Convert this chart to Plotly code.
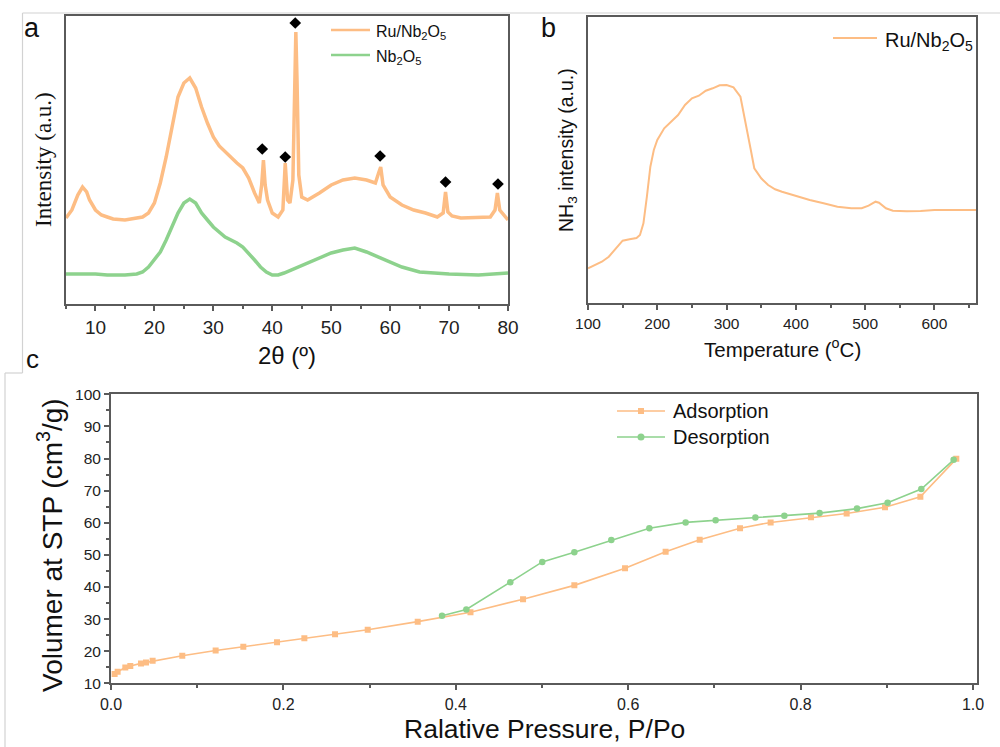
import plotly.graph_objects as go

W, H = 1000, 747
ORANGE = "#FDBD84"
GREEN = "#8DD28D"
AXC = "#5a5a5a"
SANS = "Liberation Sans, Arial, sans-serif"
SERIF = "Liberation Serif, Times New Roman, serif"

# ---------------- panel a : XRD ----------------
xrd_ru_x = [5, 6, 7, 7.8, 8.5, 9, 10, 11, 12, 13, 15, 17, 18, 19, 20, 21, 22, 23, 24, 25, 26, 27,
            28, 29, 30, 31, 32, 33, 34, 35, 36, 37, 37.8, 38.2, 38.5, 38.8, 39.2, 40, 41, 41.8,
            42.2, 42.6, 43, 43.5, 43.8, 44, 44.2, 44.5, 45, 46, 48, 50, 52, 54, 56, 57.5, 58.1,
            58.4, 58.8, 59.5, 60, 62, 64, 66, 68, 69, 69.4, 69.8, 70.5, 72, 75, 77, 77.8, 78.2,
            78.6, 79, 80]
xrd_ru_y = [86, 94, 109, 117, 112, 104, 94, 89, 87, 85, 84, 86, 87, 91, 101, 121, 147, 177, 207,
            221, 226, 216, 197, 181, 167, 158, 152, 146, 141, 136, 126, 111, 101, 119, 144, 119,
            104, 91, 87, 94, 141, 104, 101, 124, 224, 272, 224, 129, 107, 104, 111, 119, 124, 126,
            124, 121, 132, 137, 119, 111, 107, 99, 94, 91, 87, 91, 112, 92, 88, 86, 87, 87, 94,
            111, 94, 91, 84]
xrd_nb_x = [5, 8, 10, 12, 15, 17, 18, 19, 20, 21, 22, 23, 24, 25, 26, 27, 28, 29, 30, 32, 34, 35,
            36, 37, 38, 39, 40, 41, 42, 44, 46, 48, 50, 52, 54, 56, 58, 60, 62, 65, 70, 75, 80]
xrd_nb_y = [30, 30, 30, 29, 29, 30, 32, 37, 44, 52, 64, 77, 91, 101, 105, 101, 91, 84, 77, 67, 61,
            57, 51, 44, 37, 32, 29, 29, 31, 36, 41, 46, 51, 54, 56, 52, 47, 42, 37, 32, 30, 29, 31]
peak_x = [38.3, 42.2, 43.9, 58.3, 69.4, 78.3]
peak_y = [155, 147, 281, 148, 122, 120]
xrd_xticks = [10, 20, 30, 40, 50, 60, 70, 80]

# ---------------- panel b : NH3-TPD ----------------
tpd_t = [100, 120, 130, 140, 150, 160, 170, 175, 180, 185, 190, 195, 200, 210, 220, 230, 240, 250,
         260, 270, 280, 290, 300, 310, 320, 330, 335, 340, 350, 360, 370, 380, 400, 420, 440, 460,
         480, 495, 505, 515, 520, 530, 540, 560, 580, 600, 630, 660]
tpd_i = [34.7, 41.3, 46.3, 54.7, 62.3, 63.7, 65.0, 68.0, 79.7, 106.3, 136.3, 153.0, 163.0, 174.7,
         181.3, 188.0, 198.0, 204.7, 207.3, 212.3, 214.7, 217.7, 218.0, 215.7, 206.3, 173.0, 153.0,
         134.7, 124.7, 118.0, 113.7, 111.3, 107.0, 103.0, 99.7, 96.3, 94.7, 94.7, 97.3, 101.3, 100.3,
         94.7, 92.3, 91.7, 92.0, 93.0, 93.0, 93.0]
tpd_xticks = [100, 200, 300, 400, 500, 600]

# ---------------- panel c : N2 isotherm ----------------
ads_p = [0.0042, 0.0077, 0.0166, 0.0224, 0.0348, 0.0406, 0.0483, 0.0827, 0.1214, 0.1535, 0.1926,
         0.2243, 0.2599, 0.2978, 0.3558, 0.4170, 0.478, 0.5375, 0.5963, 0.6434, 0.6829, 0.7297,
         0.7652, 0.812, 0.8534, 0.8979, 0.9389, 0.9806]
ads_v = [12.9, 13.6, 14.9, 15.4, 16.2, 16.5, 17.0, 18.6, 20.2, 21.4, 22.8, 24.0, 25.3, 26.7, 29.2,
         32.1, 36.2, 40.5, 45.8, 51.0, 54.7, 58.3, 60.1, 61.7, 62.9, 64.8, 68.1, 79.9]
des_p = [0.384, 0.4122, 0.4632, 0.5003, 0.5375, 0.5804, 0.6245, 0.6666, 0.7014, 0.7475, 0.7811,
         0.822, 0.8654, 0.9009, 0.940, 0.9775]
des_v = [31.05, 33.0, 41.5, 47.8, 50.8, 54.6, 58.3, 60.1, 60.8, 61.6, 62.2, 63.0, 64.4, 66.2,
         70.5, 79.6]
iso_xticks = [0.0, 0.2, 0.4, 0.6, 0.8, 1.0]


def px(x):
    return x / W


def py(y):
    return 1 - y / H


fig = go.Figure()

fig.add_trace(go.Scatter(x=xrd_ru_x, y=xrd_ru_y, mode="lines", line=dict(color=ORANGE, width=3.5),
                         xaxis="x", yaxis="y", showlegend=False))
fig.add_trace(go.Scatter(x=xrd_nb_x, y=xrd_nb_y, mode="lines", line=dict(color=GREEN, width=3.5),
                         xaxis="x", yaxis="y", showlegend=False))
fig.add_trace(go.Scatter(x=peak_x, y=peak_y, mode="markers",
                         marker=dict(symbol="diamond", size=9, color="black"),
                         xaxis="x", yaxis="y", showlegend=False))

fig.add_trace(go.Scatter(x=tpd_t, y=tpd_i, mode="lines", line=dict(color=ORANGE, width=2),
                         xaxis="x2", yaxis="y2", showlegend=False))

fig.add_trace(go.Scatter(x=ads_p, y=ads_v, mode="lines+markers",
                         line=dict(color=ORANGE, width=1.6),
                         marker=dict(symbol="square", size=6, color=ORANGE),
                         xaxis="x3", yaxis="y3", showlegend=False))
fig.add_trace(go.Scatter(x=des_p, y=des_v, mode="lines+markers",
                         line=dict(color=GREEN, width=1.6),
                         marker=dict(symbol="circle", size=6.5, color=GREEN),
                         xaxis="x3", yaxis="y3", showlegend=False))

axis_common = dict(showline=True, linecolor=AXC, linewidth=2, mirror=True, showgrid=False,
                   zeroline=False, automargin=False)

fig.update_layout(
    template="none",
    width=W, height=H, margin=dict(l=0, r=0, t=0, b=0, pad=0, autoexpand=False),
    paper_bgcolor="white", plot_bgcolor="white", showlegend=False,
    xaxis=dict(domain=[px(66), px(508)], range=[5, 80], anchor="y",
               tickvals=xrd_xticks, ticks="outside", ticklen=5, tickwidth=1.5, tickcolor=AXC,
               minor=dict(dtick=5, ticks="outside", ticklen=3, tickcolor=AXC),
               tickfont=dict(family=SANS, size=19, color="#222"), **axis_common),
    yaxis=dict(domain=[py(304), py(16)], range=[0, 288], anchor="x", showticklabels=False,
               ticks="", **axis_common),
    xaxis2=dict(domain=[px(588), px(976)], range=[100, 660], anchor="y2",
                tickvals=tpd_xticks, ticks="outside", ticklen=5, tickwidth=1.5, tickcolor=AXC,
                minor=dict(dtick=50, ticks="outside", ticklen=3, tickcolor=AXC),
                tickfont=dict(family=SANS, size=15.5, color="#222"), **axis_common),
    yaxis2=dict(domain=[py(303), py(17)], range=[0, 286], anchor="x2", showticklabels=False,
                ticks="", **axis_common),
    xaxis3=dict(domain=[px(111), px(977)], range=[0, 1.0046], anchor="y3",
                tickvals=iso_xticks, tickformat=".1f", ticks="outside", ticklen=5, tickwidth=1.5,
                tickcolor=AXC, minor=dict(dtick=0.1, ticks="outside", ticklen=3, tickcolor=AXC),
                tickfont=dict(family=SANS, size=16, color="#222"), **axis_common),
    yaxis3=dict(domain=[py(683.3), py(394.3)], range=[10, 100], anchor="x3",
                dtick=10, ticks="outside", ticklen=5, tickwidth=1.5, tickcolor=AXC,
                minor=dict(dtick=5, ticks="outside", ticklen=3, tickcolor=AXC),
                tickfont=dict(family=SANS, size=15.5, color="#222"), **axis_common),
)

shapes = []
# faint border lines from the original composite image
for (x0, y0, x1, y1) in [(22.5, 13, 1000, 13), (22.5, 13, 22.5, 373), (5, 373, 22.5, 373),
                         (5, 373, 5, 747)]:
    shapes.append(dict(type="line", xref="paper", yref="paper", x0=px(x0), y0=py(y0),
                       x1=px(x1), y1=py(y1), line=dict(color="#d2d2d2", width=1.2)))

# legend lines
for (x0, x1, y, c, w) in [(331, 370, 30, ORANGE, 2.5), (331, 370, 55, GREEN, 2.5),
                          (833, 877, 38, ORANGE, 2), (617, 665, 411, ORANGE, 1.6),
                          (617, 665, 437, GREEN, 1.6)]:
    shapes.append(dict(type="line", xref="paper", yref="paper", x0=px(x0), y0=py(y),
                       x1=px(x1), y1=py(y), line=dict(color=c, width=w)))
# legend markers (panel c)
shapes.append(dict(type="rect", xref="paper", yref="paper", x0=px(638), x1=px(644),
                   y0=py(408), y1=py(414), fillcolor=ORANGE, line=dict(width=0)))
shapes.append(dict(type="circle", xref="paper", yref="paper", x0=px(637.5), x1=px(644.5),
                   y0=py(433.5), y1=py(440.5), fillcolor=GREEN, line=dict(width=0)))
fig.update_layout(shapes=shapes)

ann = []


def text(x, y, s, size, family=SANS, xanchor="center", angle=0, color="#111"):
    ann.append(dict(x=px(x), y=py(y), xref="paper", yref="paper", text=s, showarrow=False,
                    xanchor=xanchor, yanchor="middle", textangle=angle,
                    font=dict(family=family, size=size, color=color)))


text(32, 28, "a", 27)
text(548, 28, "b", 27)
text(32, 359, "c", 26)

text(287, 355, "2θ (º)", 24)
text(43, 160, "Intensity (a.u.)", 23, family=SERIF, angle=-90)
text(374, 33, "Ru/Nb<sub>2</sub>O<sub>5</sub>", 16, xanchor="left")
text(374, 58, "Nb<sub>2</sub>O<sub>5</sub>", 16, xanchor="left")

text(782, 348, "Temperature (<sup>o</sup>C)", 20.5)
text(567, 150, "NH<sub>3</sub> intensity (a.u.)", 19.5, angle=-90)
text(883, 41, "Ru/Nb<sub>2</sub>O<sub>5</sub>", 20, xanchor="left")

text(50, 545, "Volumer at STP (cm<sup>3</sup>/g)", 28, angle=-90)
text(544, 729, "Ralative Pressure, P/Po", 26.5)
text(671, 411, "Adsorption", 20, xanchor="left")
text(671, 437, "Desorption", 20, xanchor="left")

fig.update_layout(annotations=ann)

fig.write_html("out.html")
